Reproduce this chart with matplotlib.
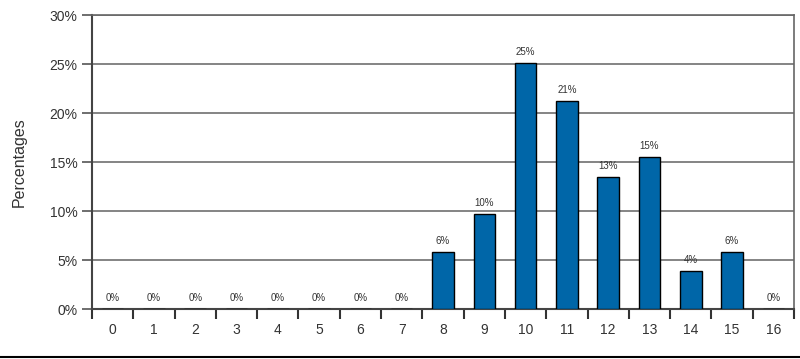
import matplotlib
matplotlib.use("Agg")
import matplotlib.pyplot as plt
from matplotlib.lines import Line2D
import numpy as np

categories = [str(i) for i in range(17)]
values = [0, 0, 0, 0, 0, 0, 0, 0, 5.8, 9.7, 25.1, 21.2, 13.5, 15.5, 3.9, 5.85, 0]
labels = ["0%"] * 8 + ["6%", "10%", "25%", "21%", "13%", "15%", "4%", "6%", "0%"]
yticks = [0, 5, 10, 15, 20, 25, 30]

plt.rcParams['font.family'] = ['Liberation Sans', 'DejaVu Sans']

fig = plt.figure(figsize=(8, 3.59), dpi=100)
ax = fig.add_axes([0.115, 0.139, 0.8775, 0.819])

x = np.arange(len(categories))
ax.bar(x, values, width=0.52, color='#0066a8', edgecolor='black', linewidth=1, zorder=3)

for xi, v, lab in zip(x, values, labels):
    ax.text(xi, v + 0.6, lab, ha='center', va='bottom', fontsize=7, color='#333333')

ax.set_xlim(-0.5, 16.5)
ax.set_ylim(0, 30)
ax.set_yticks(yticks)
ax.set_yticklabels([f"{t}%" for t in yticks], fontsize=10, color='#333333')
ax.yaxis.grid(True, color='#707070', linewidth=1.2, zorder=0)

# category labels centred, ticks on boundaries
ax.set_xticks(np.arange(-0.5, 17, 1))
ax.set_xticklabels([])
ax.set_xticks(x, minor=True)
ax.set_xticklabels(categories, minor=True, fontsize=10, color='#333333')
ax.tick_params(axis='x', which='minor', length=0, pad=10)
ax.tick_params(axis='x', which='major', length=7, width=1.5, color='#333333', direction='out')
ax.tick_params(axis='y', length=7, width=1.2, color='#555555', direction='out')

for s in ['left', 'bottom']:
    ax.spines[s].set_color('#444444')
    ax.spines[s].set_linewidth(1.5)
for s in ['top', 'right']:
    ax.spines[s].set_color('#666666')
    ax.spines[s].set_linewidth(1.2)

ax.set_ylabel('Percentages', fontsize=11.5, color='#333333', labelpad=16)

fig.add_artist(Line2D([0, 1], [0.006, 0.006], color='black', linewidth=1.5, transform=fig.transFigure))

fig.savefig('out.png', dpi=100)
